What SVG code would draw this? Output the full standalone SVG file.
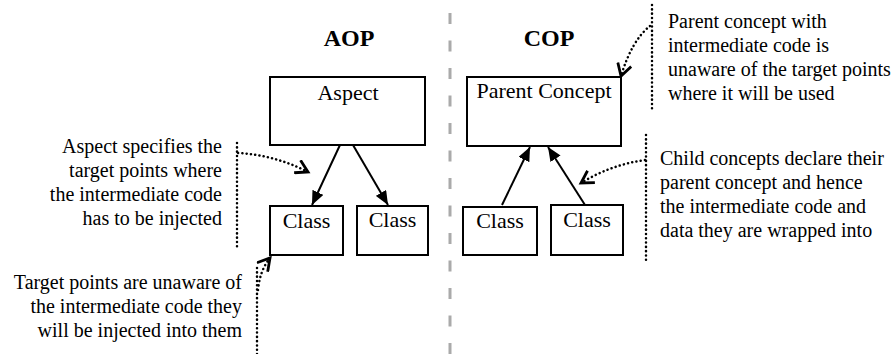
<svg xmlns="http://www.w3.org/2000/svg" width="895" height="354" viewBox="0 0 895 354">
<style>
text{font-family:'Liberation Serif','DejaVu Serif',serif;fill:#000}
.t{font-size:20px}
.b{font-size:22px;text-anchor:middle}
.h{font-size:24px;font-weight:bold;text-anchor:middle}
.box{fill:#fff;stroke:#000;stroke-width:2}
.arr{stroke:#000;stroke-width:2;fill:none;marker-end:url(#tri)}
.dot{stroke:#000;stroke-width:2.5;fill:none;stroke-linecap:round;stroke-dasharray:0.1 4.2}
.darr{marker-end:url(#vee)}
.r{text-anchor:end}
</style>
<defs>
<marker id="tri" markerUnits="userSpaceOnUse" markerWidth="16" markerHeight="12" refX="14" refY="6" orient="auto">
<path d="M0,0 L14,6 L0,12 Z" fill="#000"/>
</marker>
<marker id="vee" markerUnits="userSpaceOnUse" markerWidth="16" markerHeight="16" refX="13" refY="8" orient="auto">
<path d="M1,1 L13,8 L1,15" fill="none" stroke="#000" stroke-width="2.8"/>
</marker>
</defs>
<line x1="450" y1="13" x2="450" y2="354" stroke="#aaa" stroke-width="3" stroke-dasharray="11 16.5"/>
<text class="h" x="349" y="46" font-family="Liberation Serif, serif">AOP</text>
<text class="h" x="549" y="46" font-family="Liberation Serif, serif">COP</text>
<g id="aspect"><rect class="box" x="270" y="77" width="155" height="68"/><text class="b" x="348" y="100" font-family="Liberation Serif, serif">Aspect</text></g>
<g id="aop-class1"><rect class="box" x="270" y="206" width="73" height="49"/><text class="b" x="306.5" y="228" font-family="Liberation Serif, serif">Class</text></g>
<g id="aop-class2"><rect class="box" x="357" y="206" width="71" height="49"/><text class="b" x="392.5" y="227" font-family="Liberation Serif, serif">Class</text></g>
<g id="parent-concept"><rect class="box" x="467" y="77" width="154" height="69"/><text class="b" x="544" y="98" font-family="Liberation Serif, serif">Parent Concept</text></g>
<g id="cop-class1"><rect class="box" x="463" y="207" width="74" height="48"/><text class="b" x="500" y="228" font-family="Liberation Serif, serif">Class</text></g>
<g id="cop-class2"><rect class="box" x="551" y="205" width="72" height="50"/><text class="b" x="587" y="227" font-family="Liberation Serif, serif">Class</text></g>
<g id="note-aspect" font-family="Liberation Serif, serif">
<text class="t r" x="222" y="153">Aspect specifies the</text>
<text class="t r" x="222" y="177">target points where</text>
<text class="t r" x="222" y="201">the intermediate code</text>
<text class="t r" x="222" y="225">has to be injected</text>
</g>
<g id="note-target">
<text class="t r" x="242" y="289">Target points are unaware of</text>
<text class="t r" x="242" y="313">the intermediate code they</text>
<text class="t r" x="242" y="337">will be injected into them</text>
</g>
<g id="note-parent">
<text class="t" x="668" y="28">Parent concept with</text>
<text class="t" x="668" y="52">intermediate code is</text>
<text class="t" x="668" y="76">unaware of the target points</text>
<text class="t" x="668" y="100">where it will be used</text>
</g>
<g id="note-child">
<text class="t" x="660" y="165">Child concepts declare their</text>
<text class="t" x="660" y="189">parent concept and hence</text>
<text class="t" x="660" y="213">the intermediate code and</text>
<text class="t" x="660" y="237">data they are wrapped into</text>
</g>
<g id="connectors">
<line class="arr" x1="340" y1="145" x2="312" y2="205"/>
<line class="arr" x1="353" y1="145" x2="388" y2="205"/>
<line class="arr" x1="502" y1="205" x2="530" y2="147"/>
<line class="arr" x1="585" y1="205" x2="548" y2="147"/>
<line class="dot" x1="237" y1="143" x2="237" y2="247"/>
<line class="dot" x1="257" y1="268" x2="257" y2="354"/>
<line class="dot" x1="652" y1="5" x2="652" y2="110"/>
<line class="dot" x1="646" y1="135" x2="646" y2="262"/>
<path class="dot darr" d="M238,153 Q275,155 308,172"/>
<path class="dot darr" d="M258,290 Q260,270 270,258"/>
<path class="dot darr" d="M650,26 Q632,40 621,76"/>
<path class="dot darr" d="M645,160 Q610,165 581,183"/>
</g>
</svg>
